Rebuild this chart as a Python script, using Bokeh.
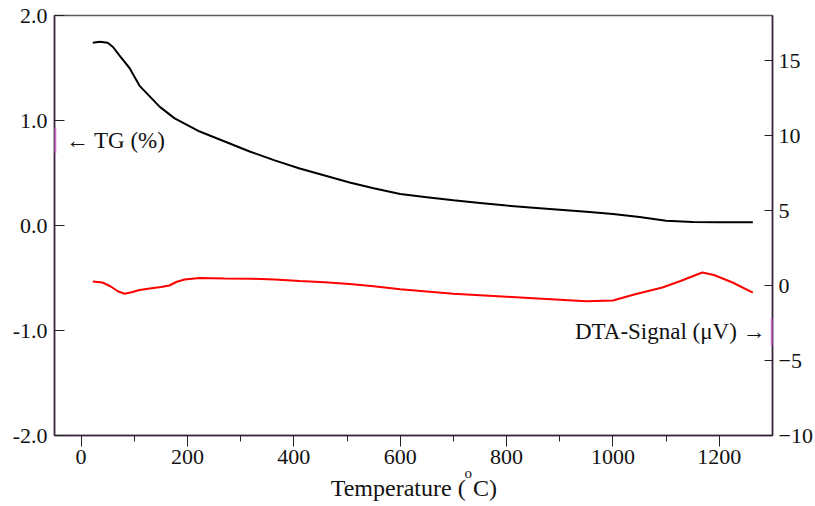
from bokeh.plotting import figure
from bokeh.layouts import column
from bokeh.models import Range1d, LinearAxis, FixedTicker, PrintfTickFormatter, Label, Arrow
from bokeh.embed import file_html
from bokeh.resources import INLINE

# ---- data ----
tg_temp = [22, 35, 50, 60, 72, 91, 110, 129, 148, 176, 223, 270, 317, 364, 411, 458,
           505, 550, 600, 650, 700, 750, 800, 850, 900, 950, 1000, 1050, 1100, 1150, 1200, 1263]
tg_val = [1.74, 1.75, 1.74, 1.70, 1.62, 1.50, 1.33, 1.23, 1.13, 1.02, 0.895, 0.80, 0.705, 0.62,
          0.543, 0.476, 0.41, 0.355, 0.30, 0.27, 0.24, 0.215, 0.19, 0.17, 0.15, 0.13, 0.11,
          0.08, 0.045, 0.033, 0.03, 0.03]

dta_temp = [22, 40, 55, 70, 82, 95, 110, 129, 150, 166, 180, 195, 223, 270, 320, 364, 411, 458,
            505, 550, 600, 650, 700, 750, 800, 850, 900, 950, 1000, 1040, 1093, 1127, 1168,
            1190, 1225, 1263]
dta_val = [0.27, 0.20, -0.05, -0.40, -0.55, -0.45, -0.30, -0.20, -0.10, 0.00, 0.25, 0.40, 0.50,
           0.47, 0.45, 0.40, 0.30, 0.22, 0.10, -0.05, -0.25, -0.40, -0.55, -0.65, -0.75, -0.85,
           -0.95, -1.05, -1.00, -0.60, -0.13, 0.30, 0.87, 0.70, 0.20, -0.47]

x_major = [0, 200, 400, 600, 800, 1000, 1200]
x_minor = [100, 300, 500, 700, 900, 1100]
tg_ticks = [-2, -1, 0, 1, 2]
dta_ticks = [-10, -5, 0, 5, 10, 15]

FONT = "Liberation Serif"
AXC = "#3d1f40"
TXT = "#111111"

p = figure(width=815, height=474, x_range=Range1d(-50, 1300), y_range=Range1d(-2, 2),
           output_backend="svg", toolbar_location=None,
           min_border_left=54, min_border_right=42, min_border_top=15, min_border_bottom=39)
p.extra_y_ranges = {"dta": Range1d(-10, 18)}
p.grid.visible = False
p.outline_line_color = "#5a5a5a"
p.outline_line_width = 1.5
p.background_fill_color = "white"
p.border_fill_color = "white"

xa = p.xaxis[0]
xa.ticker = FixedTicker(ticks=x_major, minor_ticks=x_minor)
xa.major_tick_in = 0
xa.major_tick_out = 11
xa.minor_tick_in = 0
xa.minor_tick_out = 6
xa.axis_line_color = AXC
xa.axis_line_width = 1.5
xa.major_tick_line_color = "#222222"
xa.minor_tick_line_color = "#222222"
xa.major_label_text_font = FONT
xa.major_label_text_font_size = "22px"
xa.major_label_text_color = TXT
xa.major_label_standoff = 3

ya = p.yaxis[0]
ya.ticker = FixedTicker(ticks=tg_ticks)
ya.formatter = PrintfTickFormatter(format="%.1f")
ya.major_tick_in = 10
ya.major_tick_out = 0
ya.minor_tick_line_color = None
ya.axis_line_color = AXC
ya.axis_line_width = 1.5
ya.major_tick_line_color = "#222222"
ya.major_label_text_font = FONT
ya.major_label_text_font_size = "22px"
ya.major_label_text_color = TXT
ya.major_label_standoff = 7

ra = LinearAxis(y_range_name="dta")
ra.ticker = FixedTicker(ticks=dta_ticks)
ra.major_tick_in = 8
ra.major_tick_out = 0
ra.minor_tick_line_color = None
ra.axis_line_color = AXC
ra.axis_line_width = 1.5
ra.major_tick_line_color = "#222222"
ra.major_label_text_font = FONT
ra.major_label_text_font_size = "22px"
ra.major_label_text_color = TXT
ra.major_label_standoff = 6
p.add_layout(ra, "right")

p.line(tg_temp, tg_val, line_color="black", line_width=2)
p.line(dta_temp, dta_val, line_color="#ff0000", line_width=2, y_range_name="dta")

# magenta markers on the axis lines next to the series labels
MAG = "#c86ec8"
p.add_layout(Arrow(end=None, start=None, x_start=-50, x_end=-50, y_start=0.93, y_end=0.69,
                   line_color=MAG, line_width=3.5, level="overlay"))
p.add_layout(Arrow(end=None, start=None, x_start=1300, x_end=1300, y_start=-2.2, y_end=-4.0,
                   y_range_name="dta", line_color=MAG, line_width=3.5, level="overlay"))

p.add_layout(Label(x=-29, y=0.81, text="\u2190 TG (%)", text_font=FONT, text_font_size="23px",
                   text_baseline="middle", text_align="left", text_color=TXT))
p.add_layout(Label(x=1287, y=-3.07, y_range_name="dta", text="DTA-Signal (\u03bcV) \u2192",
                   text_font=FONT, text_font_size="23px", text_baseline="middle",
                   text_align="right", text_color=TXT))

# x-axis title strip (shares the x range, overlaps the bottom of the main plot)
p2 = figure(width=815, height=46, x_range=p.x_range, y_range=Range1d(0, 46),
            output_backend="svg", toolbar_location=None, x_axis_type=None, y_axis_type=None,
            min_border_left=54, min_border_right=42, min_border_top=0, min_border_bottom=0,
            margin=(-14, 0, 0, 0))
p2.grid.visible = False
p2.outline_line_color = None
p2.background_fill_color = None
p2.border_fill_color = None

p2.add_layout(Label(x=723, y=19, text="Temperature (", text_font=FONT, text_font_size="24px",
                    text_baseline="alphabetic", text_align="right", text_color=TXT))
p2.add_layout(Label(x=721, y=34, text="o", text_font=FONT, text_font_size="15px",
                    text_baseline="alphabetic", text_align="left", text_color=TXT))
p2.add_layout(Label(x=737, y=19, text="C)", text_font=FONT, text_font_size="24px",
                    text_baseline="alphabetic", text_align="left", text_color=TXT))

layout = column(p, p2, spacing=0)
open("out.html", "w").write(file_html(layout, INLINE))
